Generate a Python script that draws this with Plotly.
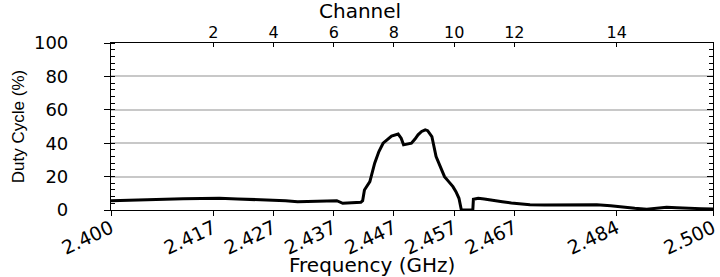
import plotly.graph_objects as go

# Data
freq_ghz = [2.400, 2.403, 2.406, 2.409, 2.412, 2.415, 2.418, 2.421, 2.424, 2.427,
            2.429, 2.431, 2.434, 2.4365, 2.4375, 2.4385, 2.440, 2.4415, 2.4418, 2.4421,
            2.4430, 2.4438, 2.4445, 2.4452, 2.4460, 2.4466, 2.4477, 2.4482, 2.4486, 2.4492,
            2.4499, 2.4505, 2.4510, 2.4516, 2.4522, 2.4526, 2.4533, 2.4540, 2.4547, 2.4554,
            2.4561, 2.4568, 2.4573, 2.4578, 2.4582, 2.4601, 2.4602, 2.4610, 2.4620, 2.4635,
            2.4650, 2.4665, 2.4680, 2.4696, 2.4720, 2.4751, 2.4780, 2.4807, 2.4830, 2.4846,
            2.4870, 2.4890, 2.4905, 2.4923, 2.4940, 2.4956, 2.4980, 2.500]
duty_cycle = [5.6, 6.0, 6.4, 6.6, 6.8, 6.9, 7.0, 6.6, 6.2, 6.0,
              5.6, 5.0, 5.4, 5.8, 5.6, 4.0, 4.2, 4.6, 5.6, 12.0,
              17.0, 28.0, 35.0, 40.0, 42.5, 44.3, 45.5, 43.0, 39.0, 39.5,
              40.0, 42.5, 45.0, 47.0, 48.0, 47.5, 44.0, 32.0, 26.0, 20.0,
              17.0, 14.0, 11.0, 7.0, 0.0, 0.0, 6.4, 7.0, 6.6, 5.6,
              5.0, 4.2, 3.6, 3.2, 3.0, 3.0, 3.0, 3.2, 2.6, 1.8,
              1.0, 0.5, 1.0, 1.6, 1.4, 1.0, 0.8, 0.6]
assert len(freq_ghz) == len(duty_cycle)

freq_ticks = [2.400, 2.417, 2.427, 2.437, 2.447, 2.457, 2.467, 2.484, 2.500]
freq_tick_labels = ["2.400", "2.417", "2.427", "2.437", "2.447", "2.457", "2.467", "2.484", "2.500"]
channel_ticks = [2.417, 2.427, 2.437, 2.447, 2.457, 2.467, 2.484]
channel_labels = ["2", "4", "6", "8", "10", "12", "14"]

WIDE = "DejaVu Sans, Verdana, sans-serif"
ARIAL = "Liberation Sans, Arial, sans-serif"

fig = go.Figure()
fig.add_trace(go.Scatter(x=freq_ghz, y=duty_cycle, mode="lines",
                         line=dict(color="black", width=3),
                         showlegend=False, xaxis="x", yaxis="y"))
# invisible copies so the top and right axes are drawn
fig.add_trace(go.Scatter(x=freq_ghz, y=duty_cycle, mode="lines",
                         line=dict(color="rgba(0,0,0,0)", width=0),
                         hoverinfo="skip", showlegend=False, xaxis="x2", yaxis="y"))
fig.add_trace(go.Scatter(x=freq_ghz, y=duty_cycle, mode="lines",
                         line=dict(color="rgba(0,0,0,0)", width=0),
                         hoverinfo="skip", showlegend=False, xaxis="x", yaxis="y2"))

fig.update_layout(
    width=720, height=277,
    margin=dict(l=111, r=7, t=43, b=67, autoexpand=False),
    paper_bgcolor="white", plot_bgcolor="white",
    xaxis=dict(range=[2.400, 2.500], tickmode="array", tickvals=freq_ticks,
               ticktext=freq_tick_labels, tickangle=-25, automargin=False,
               tickfont=dict(family=WIDE, size=19, color="black"),
               ticks="outside", ticklen=5, tickcolor="black", ticklabelstandoff=-6,
               showline=True, linecolor="black", linewidth=1.2,
               showgrid=False, zeroline=False),
    xaxis2=dict(range=[2.400, 2.500], overlaying="x", side="top", anchor="y",
                tickmode="array", tickvals=channel_ticks, ticktext=channel_labels,
                automargin=False,
                tickfont=dict(family=WIDE, size=16, color="black"),
                ticks="inside", ticklen=4, tickcolor="black", ticklabelstandoff=-2,
                showline=True, linecolor="black", linewidth=1.2,
                showgrid=False, zeroline=False),
    yaxis=dict(range=[0, 100], dtick=20, tick0=0, automargin=False,
               tickfont=dict(family=WIDE, size=18, color="black"),
               ticks="outside", ticklen=6, tickcolor="black", ticklabelstandoff=32,
               minor=dict(dtick=4, ticks="inside", ticklen=4, tickcolor="black", showgrid=False),
               showline=True, linecolor="black", linewidth=1.2,
               showgrid=True, gridcolor="#c8c8c8", gridwidth=1.5, zeroline=False,
               title=dict(text="Duty Cycle (%)", font=dict(family=ARIAL, size=17, color="black"),
                          standoff=4)),
    yaxis2=dict(range=[0, 100], overlaying="y", side="right", anchor="x",
                dtick=20, showticklabels=False, automargin=False,
                ticks="inside", ticklen=6, tickcolor="black",
                minor=dict(dtick=4, ticks="inside", ticklen=4, tickcolor="black", showgrid=False),
                showline=True, linecolor="black", linewidth=1.2,
                showgrid=False, zeroline=False),
    annotations=[
        dict(text="Frequency (GHz)", xref="paper", yref="paper",
             x=(372 - 111) / 602, y=-(265 - 210) / 167, xanchor="center", yanchor="middle",
             showarrow=False, font=dict(family=WIDE, size=20, color="black")),
        dict(text="Channel", xref="paper", yref="paper",
             x=(360 - 111) / 602, y=1 + (43 - 11) / 167, xanchor="center", yanchor="middle",
             showarrow=False, font=dict(family=WIDE, size=20, color="black")),
    ],
)

fig.write_html("out.html", config={"displayModeBar": False},
               post_script="document.body.style.margin='0px';")
